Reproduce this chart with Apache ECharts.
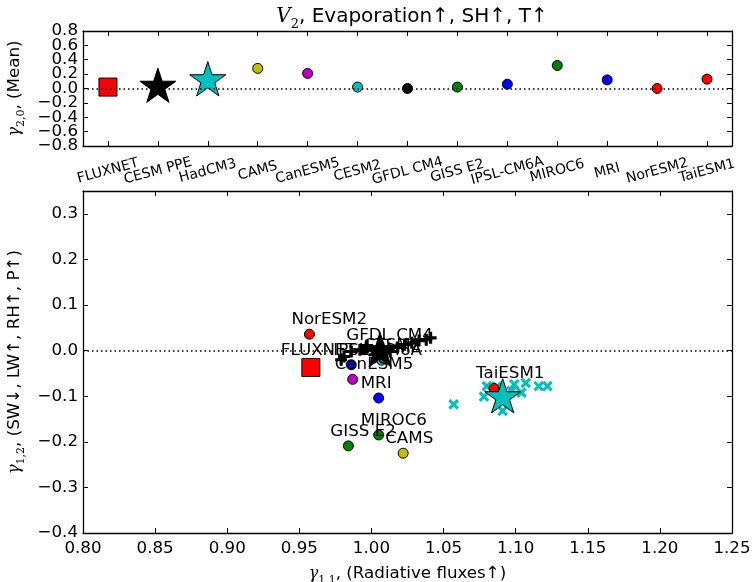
<!DOCTYPE html>
<html>
<head>
<meta charset="utf-8">
<script src="https://cdn.jsdelivr.net/npm/echarts@6/dist/echarts.min.js"></script>
<style>
  html, body { margin: 0; padding: 0; background: #fff; }
  #chart { width: 753px; height: 582px; }
</style>
</head>
<body>
<div id="chart"></div>
<script>
// ---- 上图：各模型均值 gamma_2,0 ----
const topNames = ['FLUXNET', 'CESM PPE', 'HadCM3', 'CAMS', 'CanESM5', 'CESM2', 'GFDL CM4',
  'GISS E2', 'IPSL-CM6A', 'MIROC6', 'MRI', 'NorESM2', 'TaiESM1'];
const topMeans = [0.02, 0.02, 0.11, 0.28, 0.21, 0.02, 0.0, 0.02, 0.06, 0.32, 0.12, 0.0, 0.13];
const topTicks = [-0.8, -0.6, -0.4, -0.2, 0.0, 0.2, 0.4, 0.6, 0.8];

// ---- 下图：gamma_1,1 vs gamma_1,2 ----
const modelNames = ['CAMS', 'CanESM5', 'CESM2', 'GFDL CM4', 'GISS E2', 'IPSL-CM6A', 'MIROC6', 'MRI', 'NorESM2', 'TaiESM1'];
const modelX = [1.022, 0.987, 1.007, 0.995, 0.984, 0.986, 1.005, 1.005, 0.957, 1.085];
const modelY = [-0.225, -0.063, -0.021, 0.002, -0.209, -0.031, -0.185, -0.104, 0.036, -0.083];
const fluxnetX = [0.958];
const fluxnetY = [-0.037];
// CESM PPE 成员 (+) 及均值 (星)
const ppeX = [0.979, 0.981, 0.986, 0.992, 0.997, 1.002, 1.007, 1.013, 1.018, 1.023, 1.028, 1.033, 1.038, 1.041];
const ppeY = [-0.020, -0.013, -0.002, 0.002, 0.011, -0.009, 0.009, -0.002, 0.007, 0.013, 0.017, 0.022, 0.024, 0.028];
const ppeMeanX = [1.006];
const ppeMeanY = [-0.002];
// HadCM3 成员 (x) 及均值 (星)
const hadX = [1.057, 1.080, 1.078, 1.091, 1.099, 1.107, 1.104, 1.116, 1.122, 1.097, 1.087];
const hadY = [-0.118, -0.078, -0.101, -0.132, -0.074, -0.071, -0.092, -0.078, -0.078, -0.089, -0.079];
const hadMeanX = [1.091];
const hadMeanY = [-0.103];
const xTicks2 = [0.80, 0.85, 0.90, 0.95, 1.00, 1.05, 1.10, 1.15, 1.20, 1.25];
const yTicks2 = [-0.4, -0.3, -0.2, -0.1, 0.0, 0.1, 0.2, 0.3];

// 颜色 (matplotlib classic)
const colorOf = {
  'FLUXNET': '#ff0000', 'CESM PPE': '#000000', 'HadCM3': '#00bfbf', 'CAMS': '#bfbf00',
  'CanESM5': '#bf00bf', 'CESM2': '#00bfbf', 'GFDL CM4': '#000000', 'GISS E2': '#008000',
  'IPSL-CM6A': '#0000ff', 'MIROC6': '#008000', 'MRI': '#0000ff', 'NorESM2': '#ff0000', 'TaiESM1': '#ff0000'
};

const FONT = 'DejaVu Sans';
const FS = 16.7;

// 五角星路径 (内径 0.381966, 同 matplotlib)
function starPath() {
  let s = '';
  for (let i = 0; i < 10; i++) {
    const r = i % 2 ? 0.381966 : 1;
    const a = (-90 + i * 36) * Math.PI / 180;
    s += (i ? 'L' : 'M') + (r * Math.cos(a)).toFixed(4) + ',' + (r * Math.sin(a)).toFixed(4);
  }
  return 'path://' + s + 'Z';
}
const STAR = starPath();
const PLUS = 'path://M-1.3,-5H1.3V-1.3H5V1.3H1.3V5H-1.3V1.3H-5V-1.3H-1.3Z';

const numText = (v, d) => (v < -1e-9 ? '\u2212' : '') + Math.abs(v).toFixed(d);
const fmt = d => v => (Math.abs(v - 0.35) < 1e-6 ? '' : numText(v, d));
// 上图 y 轴刻度很密：端点标签放到一根叠加的轴上，免得被自动隐藏
const topEnds = [topTicks[0], topTicks[topTicks.length - 1]];
const fmtEnds = v => (topEnds.some(t => Math.abs(t - v) < 1e-6) ? numText(v, 1) : '');

const gammaRich = {
  g: { fontFamily: 'DejaVu Serif', fontStyle: 'italic', fontSize: 16, lineHeight: 24 },
  s: { fontFamily: 'DejaVu Serif', fontSize: 11, lineHeight: 12, verticalAlign: 'bottom' }
};

function frameX(grid, type, pos, show, extra) {
  return Object.assign({
    type: type, gridIndex: grid, position: pos,
    axisLine: { show: true, onZero: false, lineStyle: { color: '#000', width: 1.3 } },
    axisTick: { show: true, inside: true, length: 5, lineStyle: { color: '#000', width: 1 } },
    axisLabel: { show: show, color: '#000', fontFamily: FONT, fontSize: FS },
    splitLine: { show: false }
  }, extra);
}

function valueLabel(d) {
  return { show: true, color: '#000', fontFamily: FONT, fontSize: FS, margin: 5,
    showMinLabel: true, showMaxLabel: true, hideOverlap: false, formatter: fmt(d) };
}

const chart = echarts.init(document.getElementById('chart'));

const stroke = { borderColor: '#000', borderWidth: 1, opacity: 1 };

const option = {
  animation: false,
  backgroundColor: '#fff',
  title: {
    text: '{v|V}{s|2}, Evaporation\u2191, SH\u2191, T\u2191',
    left: 407, top: -2, textAlign: 'center',
    textStyle: {
      fontFamily: FONT, fontSize: 20, fontWeight: 'normal', color: '#000', lineHeight: 28,
      rich: {
        v: { fontFamily: 'DejaVu Serif', fontStyle: 'italic', fontSize: 20, lineHeight: 28 },
        s: { fontFamily: 'DejaVu Serif', fontSize: 13, lineHeight: 14, verticalAlign: 'bottom' }
      }
    }
  },
  grid: [
    { left: 83, right: 21, top: 31, height: 115, outerBoundsMode: 'none', containLabel: false },
    { left: 83, right: 21, top: 191, height: 342, outerBoundsMode: 'none', containLabel: false }
  ],
  xAxis: [
    frameX(0, 'category', 'bottom', true, {
      data: topNames, boundaryGap: true,
      axisTick: { show: true, inside: true, length: 5, alignWithLabel: true, interval: 0, lineStyle: { color: '#000', width: 1 } },
      axisLabel: { show: true, interval: 0, rotate: 15, align: 'center', verticalAlign: 'middle', margin: 25,
        color: '#000', fontFamily: FONT, fontSize: 14 }
    }),
    frameX(0, 'category', 'top', false, {
      data: topNames, boundaryGap: true,
      axisTick: { show: true, inside: true, length: 5, alignWithLabel: true, interval: 0, lineStyle: { color: '#000', width: 1 } }
    }),
    frameX(1, 'value', 'bottom', true, {
      min: 0.8, max: 1.25, interval: 0.05,
      axisLabel: Object.assign(valueLabel(2), { margin: 7 }),
      name: '{g|\u03b3}{s|1,1}, (Radiative fluxes\u2191)', nameLocation: 'middle', nameGap: 25,
      nameTextStyle: { color: '#000', fontFamily: FONT, fontSize: FS, lineHeight: 24, rich: gammaRich }
    }),
    frameX(1, 'value', 'top', false, { min: 0.8, max: 1.25, interval: 0.05 })
  ],
  yAxis: [
    frameX(0, 'value', 'left', true, {
      min: -0.8, max: 0.8, interval: 0.2,
      axisLabel: Object.assign(valueLabel(1), { showMinLabel: false, showMaxLabel: false }),
      name: '{g|\u03b3}{s|2,0}, (Mean)', nameLocation: 'middle', nameRotate: 90, nameGap: 56,
      nameTextStyle: { color: '#000', fontFamily: FONT, fontSize: FS, lineHeight: 24, rich: gammaRich }
    }),
    frameX(0, 'value', 'right', false, { min: -0.8, max: 0.8, interval: 0.2 }),
    frameX(1, 'value', 'left', true, {
      min: -0.4, max: 0.35, interval: 0.1,
      axisLabel: valueLabel(1),
      name: '{g|\u03b3}{s|1,2}, (SW\u2193, LW\u2191, RH\u2191, P\u2191)', nameLocation: 'middle', nameRotate: 90, nameGap: 56,
      nameTextStyle: { color: '#000', fontFamily: FONT, fontSize: FS, lineHeight: 24, rich: gammaRich }
    }),
    frameX(1, 'value', 'right', false, { min: -0.4, max: 0.35, interval: 0.1 }),
    // 叠加轴：只画上图 ±0.8 两个端点标签
    frameX(0, 'value', 'left', true, {
      min: -0.8, max: 0.8, interval: 0.2,
      axisLine: { show: false }, axisTick: { show: false },
      axisLabel: Object.assign(valueLabel(1), { formatter: fmtEnds })
    })
  ],
  series: []
};

const zeroLine = {
  silent: true, symbol: 'none', label: { show: false },
  lineStyle: { color: '#000', type: [1.5, 3], width: 1.5, opacity: 1 },
  data: [{ yAxis: 0 }]
};

// ===== 上图 =====
const circleIdx = topNames.map((n, i) => i).filter(i => i > 2);
option.series.push({
  type: 'scatter', xAxisIndex: 0, yAxisIndex: 0, z: 3,
  symbol: 'circle', symbolSize: 10,
  data: circleIdx.map(i => ({ value: [i, topMeans[i]], itemStyle: Object.assign({ color: colorOf[topNames[i]] }, stroke) })),
  markLine: zeroLine
});
option.series.push({
  type: 'scatter', xAxisIndex: 0, yAxisIndex: 0, z: 4,
  symbol: 'rect', symbolSize: 18,
  data: [{ value: [0, topMeans[0]], itemStyle: Object.assign({ color: colorOf['FLUXNET'] }, stroke) }]
});
option.series.push({
  type: 'scatter', xAxisIndex: 0, yAxisIndex: 0, z: 4,
  symbol: STAR, symbolSize: 36, symbolKeepAspect: true, symbolOffset: [0, -1.8],
  data: [1, 2].map(i => ({ value: [i, topMeans[i]], itemStyle: Object.assign({ color: colorOf[topNames[i]] }, stroke) }))
});

// ===== 下图 =====
const labelStd = [-18, -14.5];
const labelOffsetOf = { 'FLUXNET': [-30, -17] };
function pointLabel(name) {
  return {
    show: true, formatter: name, position: 'inside', align: 'left', verticalAlign: 'middle',
    offset: labelOffsetOf[name] || labelStd,
    color: '#000', opacity: 1, fontFamily: FONT, fontSize: FS
  };
}

option.series.push({
  type: 'scatter', xAxisIndex: 2, yAxisIndex: 2, z: 2,
  symbol: PLUS, symbolSize: 12, itemStyle: { color: '#000', opacity: 1 },
  data: ppeX.map((x, i) => [x, ppeY[i]]),
  markLine: zeroLine
});
option.series.push({
  type: 'scatter', xAxisIndex: 2, yAxisIndex: 2, z: 2,
  symbol: PLUS, symbolSize: 12, symbolRotate: 45, itemStyle: { color: '#00bfbf', opacity: 1 },
  data: hadX.map((x, i) => [x, hadY[i]])
});
option.series.push({
  type: 'scatter', xAxisIndex: 2, yAxisIndex: 2, z: 3,
  symbol: 'circle', symbolSize: 10,
  data: modelNames.map((n, i) => ({
    value: [modelX[i], modelY[i]],
    itemStyle: Object.assign({ color: colorOf[n] }, stroke),
    label: pointLabel(n)
  }))
});
option.series.push({
  type: 'scatter', xAxisIndex: 2, yAxisIndex: 2, z: 3,
  symbol: 'rect', symbolSize: 18,
  data: fluxnetX.map((x, i) => ({
    value: [x, fluxnetY[i]],
    itemStyle: Object.assign({ color: colorOf['FLUXNET'] }, stroke),
    label: pointLabel('FLUXNET')
  }))
});
option.series.push({
  type: 'scatter', xAxisIndex: 2, yAxisIndex: 2, z: 5,
  symbol: STAR, symbolSize: 36, symbolKeepAspect: true, symbolOffset: [0, -1.8],
  data: [
    { value: [ppeMeanX[0], ppeMeanY[0]], itemStyle: Object.assign({ color: colorOf['CESM PPE'] }, stroke) },
    { value: [hadMeanX[0], hadMeanY[0]], itemStyle: Object.assign({ color: colorOf['HadCM3'] }, stroke) }
  ]
});

chart.setOption(option);
</script>
</body>
</html>
